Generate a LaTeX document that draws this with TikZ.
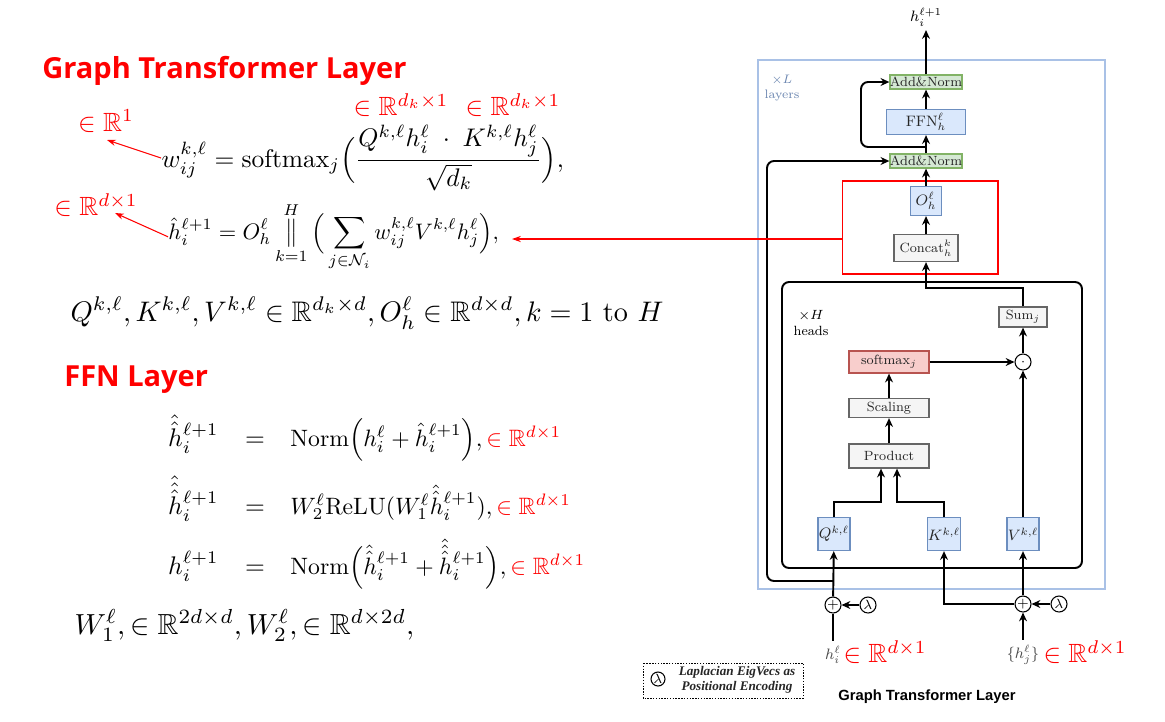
\RequirePackage{fix-cm}
\documentclass[tikz,border=0pt]{standalone}
\usepackage{amsmath,amssymb}
\usepackage{fontspec}
\newfontfamily\titlefont{Open Sans}
\newfontfamily\capfont{Liberation Sans}
\newfontfamily\legendfont{Liberation Serif}
\usetikzlibrary{arrows.meta,calc,positioning}
\definecolor{blfill}{HTML}{DAE8FC}
\definecolor{bldraw}{HTML}{6C8EBF}
\definecolor{grfill}{HTML}{F5F5F5}
\definecolor{grdraw}{HTML}{666666}
\definecolor{gnfill}{HTML}{D5E8D4}
\definecolor{gndraw}{HTML}{82B366}
\definecolor{rdfill}{HTML}{F8CECC}
\definecolor{rddraw}{HTML}{B85450}
\definecolor{frameblue}{HTML}{A9C1E6}
\definecolor{layerblue}{HTML}{6B86B0}
\definecolor{annored}{HTML}{FF0000}
\newcommand{\inR}[1]{\mathord{\in}\;\mathbb{R}^{#1}}
\newcommand{\redinR}{{\color{annored}\inR{d\times 1}}}
\newcommand{\hh}{\hat{\hat{h}}}
\newcommand{\hhh}{\hat{\hat{\hat{h}}}}

\begin{document}
\begin{tikzpicture}[x=0.02cm, y=-0.02cm,
    every node/.style={inner sep=0pt},
    box/.style={draw, line width=0.7pt, font=\fontsize{7.6}{9}\selectfont, text=black!85},
    addnorm/.style={box, fill=gnfill, draw=gndraw, minimum width=1.42cm, minimum height=0.28cm},
    blbox/.style={box, fill=blfill, draw=bldraw, font=\fontsize{8.6}{10}\selectfont},
    grbox/.style={box, fill=grfill, draw=grdraw},
    rdbox/.style={box, fill=rdfill, draw=rddraw},
    opcirc/.style={circle, draw, line width=0.6pt, fill=white, minimum size=0.32cm, font=\fontsize{7.6}{9}\selectfont},
    flow/.style={line width=1.1pt, -{Stealth[length=5pt,width=4.5pt]}},
    wire/.style={line width=1.1pt},
    anno/.style={text=annored, scale=1.5},
    annoarrow/.style={annored, line width=0.6pt, -{Stealth[length=5pt,width=3.5pt]}},
    eq/.style={scale=1.45, anchor=base west},
    heading/.style={text=annored, font={\titlefont\bfseries\fontsize{16.5}{18}\selectfont}, anchor=west}]
    \useasboundingbox (0,0) rectangle (1165,721);

    % equations on the left
    \node[heading] (tgt) at (42,71) {Graph Transformer Layer};
    \node[eq] (eqw) at (161,167) {$\displaystyle w^{k,\ell}_{ij} = \mathrm{softmax}_j\Big(\frac{Q^{k,\ell}h^{\ell}_{i}\;\cdot\;K^{k,\ell}h^{\ell}_{j}}{\sqrt{d_k}}\Big),$};
    \node[eq, scale=0.88] (eqh) at (168,239) {$\displaystyle \hat{h}^{\ell+1}_{i} = O^{\ell}_{h}\mathop{\big\Vert}\limits_{k=1}^{H}\Big(\sum_{j\in\mathcal{N}_i} w^{k,\ell}_{ij}V^{k,\ell}h^{\ell}_{j}\Big),$};
    \node[eq, scale=1.11] (par) at (70,321) {$Q^{k,\ell}, K^{k,\ell}, V^{k,\ell} \in \mathbb{R}^{d_k\times d}, O^{\ell}_{h} \in \mathbb{R}^{d\times d}, k = 1\ \text{to}\ H$};
    \node[heading] (tffn) at (64,380) {FFN Layer};
    % FFN rows: left side, equals sign, right side
    \node[eq, anchor=base east] (f1l) at (219,446) {$\hh^{\ell+1}_{i}$};
    \node[eq, anchor=base] (f1e) at (255,446) {$=$};
    \node[eq, scale=0.93] (f1r) at (290,446) {$\mathrm{Norm}\Big(h^{\ell}_{i} + \hat{h}^{\ell+1}_{i}\Big),\redinR$};
    \node[eq, anchor=base east] (f2l) at (219,514) {$\hhh^{\ell+1}_{i}$};
    \node[eq, anchor=base] (f2e) at (255,514) {$=$};
    \node[eq, scale=0.93] (f2r) at (290,514) {$W^{\ell}_{2}\mathrm{ReLU}(W^{\ell}_{1}\hh^{\ell+1}_{i}),\redinR$};
    \node[eq, anchor=base east] (f3l) at (219,574) {$h^{\ell+1}_{i}$};
    \node[eq, anchor=base] (f3e) at (255,574) {$=$};
    \node[eq, scale=0.93] (f3r) at (290,574) {$\mathrm{Norm}\Big(\hh^{\ell+1}_{i} + \hhh^{\ell+1}_{i}\Big),\redinR$};
    \node[eq, scale=1.14] (wpar) at (74,634) {$W^{\ell}_{1}, \in \mathbb{R}^{2d\times d}, W^{\ell}_{2}, \in \mathbb{R}^{d\times 2d},$};

    % red notes
    \node[anno] (rw) at (106,121) {$\inR{1}$};
    \node[anno] (rq) at (401,105) {$\inR{d_k\times 1}$};
    \node[anno] (rk) at (513,105) {$\inR{d_k\times 1}$};
    \node[anno] (rh) at (96,205) {$\inR{d\times 1}$};
    \coordinate (rwtip) at (107,140);
    \coordinate (rhtip) at (115,213);
    \coordinate (eqhtip) at (512,239);
    \draw[annoarrow] (eqw.west) -- (rwtip);
    \draw[annoarrow] (eqh.west) -- (rhtip);

    % the layer
    \draw[frameblue, line width=0.9pt] (758,60) rectangle (1105,589);
    \node[text=layerblue, align=center, font=\fontsize{7}{8.5}\selectfont] (nl) at (782,88) {$\times L$\\layers};
    \draw[line width=1.1pt, rounded corners=0.14cm] (782,282) rectangle (1082,568);
    \node[align=center, font=\fontsize{7.6}{9}\selectfont] (nh) at (811,323) {$\times H$\\heads};

    \node[addnorm] (an2) at (926,82) {Add\&Norm};
    \node[blbox, minimum width=1.58cm, minimum height=0.5cm] (ffn) at (926,122) {$\mathrm{FFN}^{\ell}_{h}$};
    \node[addnorm] (an1) at (926,161) {Add\&Norm};
    \node[blbox, minimum width=0.62cm, minimum height=0.58cm] (oh) at (926,201) {$O^{\ell}_{h}$};
    \node[grbox, minimum width=1.28cm, minimum height=0.54cm] (concat) at (926,248) {$\mathrm{Concat}^{k}_{h}$};
    \node[draw=annored, line width=0.6pt, minimum width=3.12cm, minimum height=1.86cm] (mha) at (920,227.5) {};
    \node[grbox, minimum width=0.96cm, minimum height=0.4cm] (sum) at (1023,317) {$\mathrm{Sum}_j$};
    \node[rdbox, minimum width=1.6cm, minimum height=0.44cm] (smax) at (889,362) {$\mathrm{softmax}_j$};
    \node[opcirc] (dot) at (1023,362) {$\cdot$};
    \node[grbox, minimum width=1.6cm, minimum height=0.38cm] (scal) at (889,408) {Scaling};
    \node[grbox, minimum width=1.6cm, minimum height=0.48cm] (prod) at (889,456) {Product};
    \node[blbox, minimum width=0.64cm, minimum height=0.66cm] (q) at (834,534) {$Q^{k,\ell}$};
    \node[blbox, minimum width=0.66cm, minimum height=0.66cm] (k) at (944,534) {$K^{k,\ell}$};
    \node[blbox, minimum width=0.64cm, minimum height=0.66cm] (v) at (1023,534) {$V^{k,\ell}$};
    \node[opcirc] (plq) at (833,605) {$+$};
    \node[opcirc] (lamq) at (868,605) {$\lambda$};
    \node[opcirc] (plv) at (1023,604) {$+$};
    \node[opcirc] (lamv) at (1059,604) {$\lambda$};
    \node[inner sep=2pt, font=\fontsize{8.6}{10}\selectfont] (hout) at (926,17) {$h^{\ell+1}_{i}$};
    \node[inner sep=3pt, text=black!70, font=\fontsize{8.6}{10}\selectfont] (hi) at (833,655) {$h^{\ell}_{i}$};
    \node[inner sep=3pt, text=black!70, font=\fontsize{8.6}{10}\selectfont] (hj) at (1023,655) {$\{h^{\ell}_{j}\}$};
    \node[anno, anchor=west] (hir) at (843,652) {$\inR{d\times 1}$};
    \node[anno, anchor=west] (hjr) at (1043,652) {$\inR{d\times 1}$};

    \draw[flow] (an2) -- (hout);
    \draw[flow] (ffn) -- (an2);
    \draw[flow] (an1) -- (ffn);
    \draw[flow] (oh) -- (an1);
    \draw[flow] (concat) -- (oh);
    \draw[flow] (sum.north) -- ++(0,-18) -| (concat.south);
    \draw[flow] (dot) -- (sum);
    \draw[flow] (smax) -- (dot);
    \draw[flow] (v) -- (dot);
    \draw[flow] (scal) -- (smax);
    \draw[flow] (prod) -- (scal);
    \draw[flow] (q.north) -- ++(0,-15) -| ($(prod.south)+(-8,0)$);
    \draw[flow] (k.north) -- ++(0,-15) -| ($(prod.south)+(8,0)$);
    \draw[wire] (hi) -- (plq);
    \draw[flow] (plq) -- (q);
    \draw[flow] (hj) -- (plv);
    \draw[flow] (plv) -- (v);
    \draw[flow] (plv.west) -| (k.south);
    \draw[flow] (lamq) -- (plq);
    \draw[flow] (lamv) -- (plv);
    \coordinate (res1) at (833,581);
    \coordinate (res2) at (926,147);
    \draw[flow, rounded corners=0.14cm] (res1) -- ++(-66,0) |- (an1.west);
    \draw[flow, rounded corners=0.14cm] (res2) -- ++(-65,0) |- (an2.west);
    \draw[annoarrow] (eqhtip -| mha.west) -- (eqhtip);

    % legend and caption
    \draw[line width=0.5pt, dash pattern=on 0.8pt off 0.8pt] (643,663) rectangle (803,698);
    \node[opcirc, minimum size=0.28cm] (lamleg) at (658,679) {$\lambda$};
    \node[align=center, text=black!85, font={\legendfont\bfseries\itshape\fontsize{7.5}{8.6}\selectfont}] (legtxt) at (737,680) {Laplacian EigVecs as\\Positional Encoding};
    \node[font={\capfont\bfseries\fontsize{8.4}{10}\selectfont}] (cap) at (927,697) {Graph Transformer Layer};
\end{tikzpicture}
\end{document}
